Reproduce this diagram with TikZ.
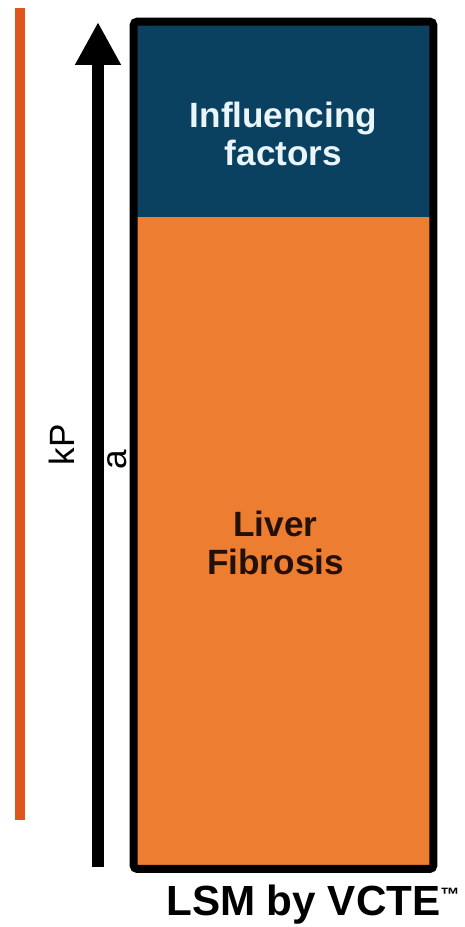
\documentclass[tikz,border=0pt]{standalone}
\usepackage{fontspec}
\setmainfont{Liberation Sans}
\usetikzlibrary{positioning, arrows.meta}

\definecolor{navyfill}{RGB}{10,64,96}
\definecolor{fibfill}{RGB}{237,125,49}
\definecolor{kpline}{RGB}{222,86,28}
\definecolor{fibink}{RGB}{35,16,6}
\definecolor{facink}{RGB}{234,245,250}

\begin{document}
\begin{tikzpicture}[
    x=0.02cm, y=-0.02cm,
    node distance=0pt,
    part/.style={rectangle, inner sep=0pt, minimum width=5.98cm},
    big/.style={font=\bfseries\fontsize{20}{21.5}\selectfont, align=center},
    side/.style={rotate=90, inner sep=0pt, font=\fontsize{20}{20}\selectfont},
    axis/.style={-{Triangle[length=0.86cm, width=0.86cm]}, line width=0.24cm, draw=black}
]
\useasboundingbox (0,0) rectangle (465,927);
% left bar
\coordinate (bartop) at (20,8);
\coordinate (barbot) at (20,820);
\draw[kpline, line width=0.2cm] (barbot) -- (bartop);
% stacked box
\node[part, fill=navyfill, minimum height=3.92cm] (factors) at (283.5,120) {};
\node[part, fill=fibfill, minimum height=13cm+1pt, below=-1pt of factors] (fibrosis) {};
\draw[line width=0.16cm, rounded corners=2pt] (factors.north west) rectangle (fibrosis.south east);
\node[big, text=facink, yshift=-0.28cm] (inftext) at (factors.center) {Influencing\\factors};
\node[big, text=fibink, xshift=-0.16cm] (fibtext) at (fibrosis.center) {Liver\\Fibrosis};
% vertical arrow
\coordinate (arrbot) at (98,867);
\coordinate (arrtop) at (98,22);
\draw[axis] (arrbot) -- (arrtop);
\node[side] (kp) at (62,445) {kP};
\node[side] (atext) at (117,460) {a};
\node[font=\bfseries\fontsize{24}{24}\selectfont] (lsm) at (313,905) {LSM by VCTE\raisebox{8pt}{\fontsize{11}{11}\selectfont ™}};
\end{tikzpicture}
\end{document}
